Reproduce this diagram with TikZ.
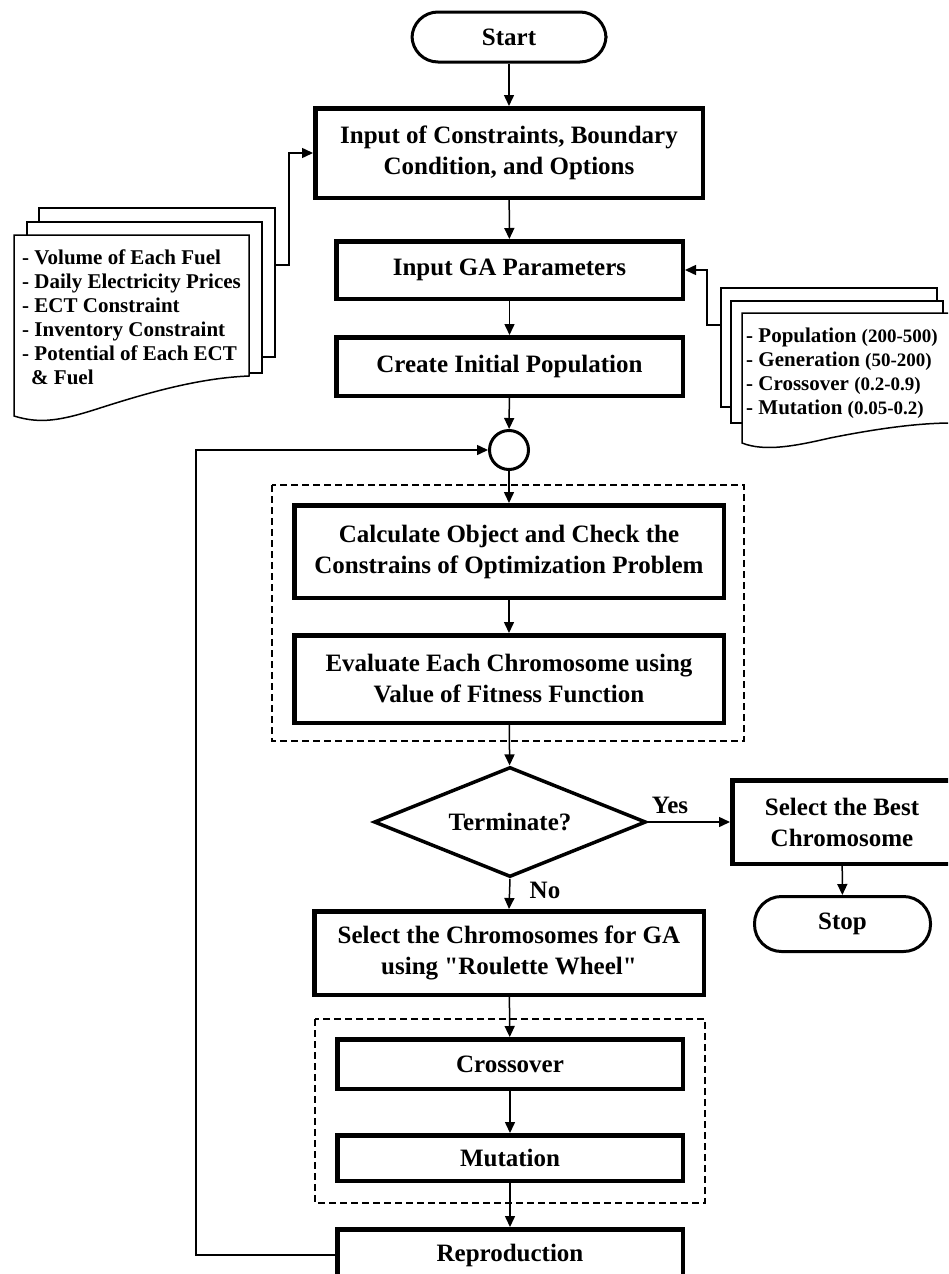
\documentclass[tikz,border=0pt]{standalone}
\usepackage{fontspec}
\setmainfont{Liberation Serif}[Ligatures=TeXOff]
\usetikzlibrary{arrows.meta,shapes.geometric}
\newcommand\mainsz{\fontsize{25}{31}\selectfont\bfseries}
\newcommand\docsz{\fontsize{21}{24}\selectfont\bfseries}
\newcommand\parenx[1]{{\fontsize{19}{24}\selectfont #1}}
\begin{document}
\begin{tikzpicture}[x=1pt,y=-1pt,
  box/.style={draw, line width=4.5pt, fill=white, inner sep=0pt, align=center, font=\mainsz},
  term/.style={draw, line width=3pt, fill=white, inner sep=0pt, rounded corners=26pt, font=\mainsz},
  dia/.style={draw, diamond, aspect=2.5, line width=3.5pt, fill=white, inner sep=0pt, font=\mainsz},
  junction/.style={draw, circle, line width=3pt, fill=white, inner sep=0pt, minimum size=39pt},
  conn/.style={line width=1.5pt, -{Triangle[length=11pt,width=10pt]}},
  sheet/.style={draw, line width=1.5pt, fill=white},
  frame/.style={draw, line width=1.5pt, dash pattern=on 7pt off 4pt},
  lbl/.style={inner sep=0pt, font=\mainsz},
  doctext/.style={inner sep=0pt, align=left, font=\docsz}
]
\useasboundingbox (0,0) rectangle (948,1274);
\clip (0,0) rectangle (948,1274);

% dashed group frames
\draw[frame] (272,485) rectangle (744,741);
\draw[frame] (315,1019) rectangle (705,1203);

% left document stack
\draw[sheet] (39,208) rectangle (275,357);
\draw[sheet] (27,222) rectangle (262,373);
\draw[sheet] (14,235) -- (249,235) -- (249,376)
  .. controls (200,378) and (150,392) .. (100,408)
  .. controls (60,421) and (40,424) .. (14,416) -- cycle;
\node[doctext, anchor=north west] (ltext) at (22,249.5)
  {- Volume of Each Fuel\\- Daily Electricity Prices\\- ECT Constraint\\- Inventory Constraint\\- Potential of Each ECT\\\hspace*{9pt}\& Fuel};
\coordinate (ldoc) at (275,265);

% right document stack
\draw[sheet] (721,288) rectangle (937,407);
\draw[sheet] (731,301) rectangle (943,423);
\draw[sheet] (742,313) -- (952,313) -- (952,423)
  .. controls (920,423) and (880,428) .. (830,438)
  .. controls (795,446) and (765,452) .. (742,443) -- cycle;
\node[doctext, anchor=north west] (rtext) at (746,327.5)
  {- Population \parenx{(200-500)}\\- Generation \parenx{(50-200)}\\- Crossover \parenx{(0.2-0.9)}\\- Mutation \parenx{(0.05-0.2)}};
\coordinate (rdoc) at (721,325);

% main nodes
\node[term, minimum width=194pt, minimum height=50pt] (start) at (509,37) {Start};
\node[box, minimum width=387.5pt, minimum height=89.5pt] (input) at (509,153) {Input of Constraints, Boundary\\Condition, and Options};
\node[box, minimum width=346.5pt, minimum height=57.5pt] (gapar) at (509.5,270) {Input GA Parameters};
\node[box, minimum width=346.5pt, minimum height=58.5pt] (create) at (509.5,366.5) {Create Initial Population};
\node[junction] (circ) at (509,450) {};
\node[box, minimum width=429.5pt, minimum height=92.5pt] (calc) at (509,551.5) {Calculate Object and Check the\\Constrains of Optimization Problem};
\node[box, minimum width=429.5pt, minimum height=87.5pt] (eval) at (509,679) {Evaluate Each Chromosome using\\Value of Fitness Function};
\node[dia, minimum width=272pt, minimum height=110pt] (term) at (510,822) {Terminate?};
\node[box, minimum width=219.5pt, minimum height=83.5pt] (best) at (842,822) {Select the Best\\Chromosome};
\node[term, minimum width=176pt, minimum height=55pt, rounded corners=27pt] (stop) at (842.5,924) {Stop};
\node[box, minimum width=389.5pt, minimum height=83.5pt] (select) at (509,953) {Select the Chromosomes for GA\\using "Roulette Wheel"};
\node[box, minimum width=345.5pt, minimum height=49.5pt] (cross) at (510,1064) {Crossover};
\node[box, minimum width=345.5pt, minimum height=45.5pt] (mut) at (510,1158) {Mutation};
\node[box, minimum width=345.5pt, minimum height=51.5pt] (repro) at (510,1255) {Reproduction};

\node[lbl] (yes) at (670,805) {Yes};
\node[lbl] (no) at (545,890) {No};

% connectors
\draw[conn] (start) -- (input);
\draw[conn] (input) -- (gapar);
\draw[conn] (gapar) -- (create);
\draw[conn] (create) -- (circ);
\draw[conn] (circ) -- (calc);
\draw[conn] (calc) -- (eval);
\draw[conn] (eval) -- (term);
\draw[conn] (term.east) -- (best.west);
\draw[conn] (best) -- (stop);
\draw[conn] (term.south) -- (select.north);
\draw[conn] (select) -- (cross);
\draw[conn] (cross) -- (mut);
\draw[conn] (mut) -- (repro);
\draw[conn] (ldoc) -- ++(14,0) |- (input.west);
\draw[conn] (rdoc) -- ++(-14,0) |- (gapar.east);
\coordinate (lp) at (196,1255);
\draw[conn] (repro.west) -- (lp) |- (circ.west);
\end{tikzpicture}
\end{document}
